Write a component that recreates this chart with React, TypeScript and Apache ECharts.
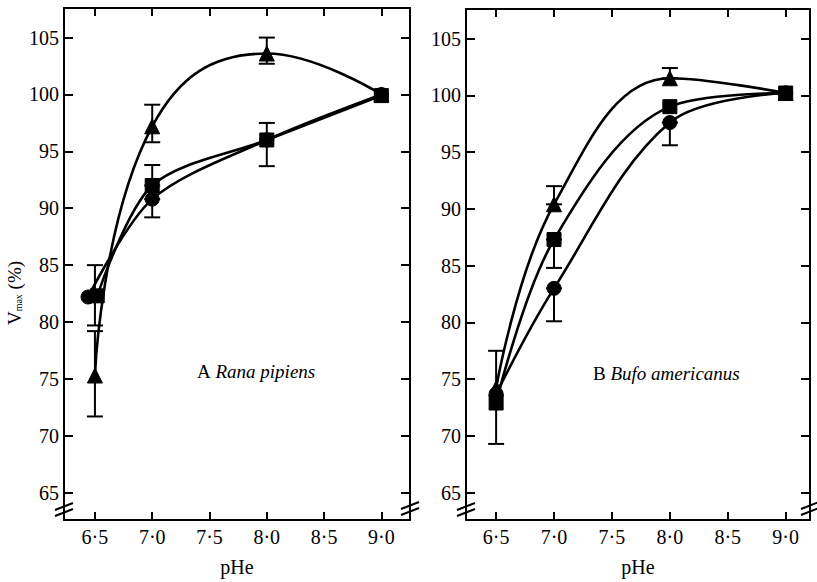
import React, { useEffect, useRef } from "react";
import * as echarts from "echarts";

const xTicks = [6.5, 7.0, 7.5, 8.0, 8.5, 9.0];
const yTicks = [65, 70, 75, 80, 85, 90, 95, 100, 105];

// Panel A: Rana pipiens
const aCircleX = [6.44, 7.0, 8.0, 9.0];
const aCircleY = [82.2, 90.8, 96.0, 100.0];
const aSquareX = [6.52, 7.0, 8.0, 9.0];
const aSquareY = [82.3, 92.0, 96.0, 99.9];
const aTriX = [6.5, 7.0, 8.0, 9.0];
const aTriY = [75.3, 97.2, 103.6, 100.0];
const aErrX = [6.5, 6.5, 7.0, 7.0, 7.0, 8.0, 8.0];
const aErrLow = [79.7, 71.7, 95.8, 92.0, 89.2, 102.7, 93.7];
const aErrHigh = [85.0, 79.2, 99.1, 93.8, 90.8, 105.0, 97.5];

// Panel B: Bufo americanus
const bCircleX = [6.5, 7.0, 8.0, 9.0];
const bCircleY = [73.7, 83.0, 97.6, 100.2];
const bSquareX = [6.5, 7.0, 8.0, 9.0];
const bSquareY = [72.9, 87.3, 99.0, 100.2];
const bTriX = [6.5, 7.0, 8.0, 9.0];
const bTriY = [74.2, 90.4, 101.5, 100.2];
const bErrX = [6.5, 7.0, 7.0, 7.0, 8.0, 8.0];
const bErrLow = [69.3, 90.4, 84.8, 80.1, 101.5, 95.6];
const bErrHigh = [77.5, 92.0, 87.3, 83.0, 102.4, 97.6];

const FONT = "Liberation Serif";

const zip = (xs: number[], ys: number[]) => xs.map((x, i) => [x, ys[i]]);
const errData = (xs: number[], lo: number[], hi: number[]) => xs.map((x, i) => [x, lo[i], hi[i]]);

export default function App() {
  const ref = useRef<HTMLDivElement>(null);
  useEffect(() => {
    if (!ref.current) return;
    const chart = echarts.init(ref.current, null, { renderer: "svg" });

    const fmtX = (v: number) => v.toFixed(1).replace(".", "·");

    const xAxes = (gridIndex: number, min: number, max: number) => [
      {
        type: "value", gridIndex, min, max, position: "bottom",
        axisLine: { show: true, lineStyle: { color: "#000", width: 2 } },
        axisTick: { show: true, inside: true, length: 8, customValues: xTicks, lineStyle: { color: "#000", width: 2 } },
        axisLabel: { show: true, customValues: xTicks, formatter: fmtX, color: "#000", fontFamily: FONT, fontSize: 20, margin: 7 },
        splitLine: { show: false },
        name: "pHe", nameLocation: "middle", nameGap: 37,
        nameTextStyle: { color: "#000", fontFamily: FONT, fontSize: 20 },
      },
      {
        type: "value", gridIndex, min, max, position: "top",
        axisLine: { show: true, lineStyle: { color: "#000", width: 2 } },
        axisTick: { show: true, inside: true, length: 8, customValues: xTicks, lineStyle: { color: "#000", width: 2 } },
        axisLabel: { show: false },
        splitLine: { show: false },
      },
    ];
    const yAxes = (gridIndex: number) => [
      {
        type: "value", gridIndex, min: 62.6, max: 107.6, position: "left",
        axisLine: { show: true, lineStyle: { color: "#000", width: 2 } },
        axisTick: { show: true, inside: true, length: 9, customValues: yTicks, lineStyle: { color: "#000", width: 2 } },
        axisLabel: { show: true, customValues: yTicks, color: "#000", fontFamily: FONT, fontSize: 20, margin: 5 },
        splitLine: { show: false },
      },
      {
        type: "value", gridIndex, min: 62.6, max: 107.6, position: "right",
        axisLine: { show: true, lineStyle: { color: "#000", width: 2 } },
        axisTick: { show: true, inside: true, length: 9, customValues: yTicks, lineStyle: { color: "#000", width: 2 } },
        axisLabel: { show: false },
        splitLine: { show: false },
      },
    ];

    const lineSeries = (xi: number, yi: number, data: number[][], symbol: string, size: number, smooth: number) => ({
      type: "line", xAxisIndex: xi, yAxisIndex: yi, data, smooth,
      symbol, symbolSize: size, showSymbol: true,
      lineStyle: { color: "#000", width: 2.6 },
      itemStyle: { color: "#000", borderColor: "#000" },
      z: 3,
    });

    const errSeries = (xi: number, yi: number, data: number[][]) => ({
      type: "custom", xAxisIndex: xi, yAxisIndex: yi, data, z: 2,
      renderItem: (params: any, api: any) => {
        const x = api.value(0), lo = api.value(1), hi = api.value(2);
        const p1 = api.coord([x, lo]);
        const p2 = api.coord([x, hi]);
        const w = 8;
        const st = { stroke: "#000", lineWidth: 2 };
        return {
          type: "group",
          children: [
            { type: "line", shape: { x1: p1[0], y1: p1[1], x2: p2[0], y2: p2[1] }, style: st },
            { type: "line", shape: { x1: p1[0] - w, y1: p1[1], x2: p1[0] + w, y2: p1[1] }, style: st },
            { type: "line", shape: { x1: p2[0] - w, y1: p2[1], x2: p2[0] + w, y2: p2[1] }, style: st },
          ],
        };
      },
    });

    const brk = (x: number, y: number) => [
      { type: "line", shape: { x1: x - 9, y1: y + 4, x2: x + 9, y2: y - 3 }, style: { stroke: "#000", lineWidth: 2 } },
      { type: "line", shape: { x1: x - 9, y1: y + 10, x2: x + 9, y2: y + 3 }, style: { stroke: "#000", lineWidth: 2 } },
    ];

    const option: any = {
      animation: false,
      backgroundColor: "#fff",
      grid: [
        { left: 64, top: 8, right: 407, bottom: 59 },
        { left: 466, top: 9, right: 7, bottom: 57 },
      ],
      xAxis: [...xAxes(0, 6.23, 9.25), ...xAxes(1, 6.24, 9.21)],
      yAxis: [...yAxes(0), ...yAxes(1)],
      series: [
        errSeries(0, 0, errData(aErrX, aErrLow, aErrHigh)),
        lineSeries(0, 0, zip(aCircleX, aCircleY), "circle", 14, 0.3),
        lineSeries(0, 0, zip(aTriX, aTriY), "triangle", 15, 0.45),
        lineSeries(0, 0, zip(aSquareX, aSquareY), "rect", 14, 0.3),
        errSeries(2, 2, errData(bErrX, bErrLow, bErrHigh)),
        lineSeries(2, 2, zip(bCircleX, bCircleY), "circle", 14, 0.35),
        lineSeries(2, 2, zip(bTriX, bTriY), "triangle", 15, 0.4),
        lineSeries(2, 2, zip(bSquareX, bSquareY), "rect", 14, 0.35),
      ],
      graphic: [
        {
          type: "text", x: 14, y: 293, rotation: Math.PI / 2,
          style: {
            text: "V{sub|max} (%)", fill: "#000", font: `19px "${FONT}"`,
            align: "center", verticalAlign: "middle",
            rich: { sub: { fontSize: 10, fontFamily: FONT, fill: "#000", padding: [9, 0, 0, 0] } },
          },
        },
        {
          type: "text", x: 197, y: 371,
          style: {
            text: "A {i|Rana pipiens}", fill: "#000", font: `19px "${FONT}"`,
            verticalAlign: "middle",
            rich: { i: { fontStyle: "italic", fontSize: 19, fontFamily: FONT, fill: "#000" } },
          },
        },
        {
          type: "text", x: 593, y: 373,
          style: {
            text: "B {i|Bufo americanus}", fill: "#000", font: `19px "${FONT}"`,
            verticalAlign: "middle",
            rich: { i: { fontStyle: "italic", fontSize: 19, fontFamily: FONT, fill: "#000" } },
          },
        },
        ...brk(64, 506),
        ...brk(410, 505),
        ...brk(466, 506),
        ...brk(810, 505),
      ],
    };
    chart.setOption(option);
    return () => chart.dispose();
  }, []);
  return <div ref={ref} style={{ position: "absolute", left: 0, top: 0, width: 817, height: 582 }} />;
}
